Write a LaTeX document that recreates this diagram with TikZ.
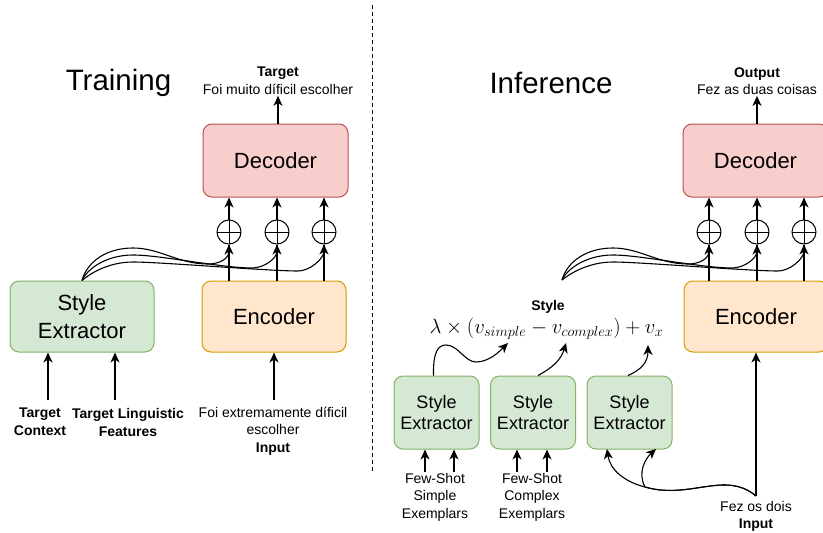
\documentclass[tikz,border=0pt]{standalone}
\usepackage{fontspec}
\setmainfont{Liberation Sans}
\usetikzlibrary{arrows.meta}
\definecolor{decfill}{HTML}{F8CECC}
\definecolor{decdraw}{HTML}{B85450}
\definecolor{encfill}{HTML}{FFE6CC}
\definecolor{encdraw}{HTML}{D79B00}
\definecolor{sefill}{HTML}{D5E8D4}
\definecolor{sedraw}{HTML}{82B366}
\begin{document}
\begin{tikzpicture}[x=1pt,y=-1pt,
  box/.style={draw, rounded corners=9pt, line width=1pt, inner sep=0pt, align=center},
  decbox/.style={box, fill=decfill, draw=decdraw, minimum width=145pt, minimum height=73pt, font=\fontsize{22}{26}\selectfont},
  encbox/.style={box, fill=encfill, draw=encdraw, minimum width=144pt, minimum height=71pt, font=\fontsize{22}{26}\selectfont},
  sebox/.style={box, fill=sefill, draw=sedraw, minimum width=144pt, minimum height=71pt, font=\fontsize{22}{28}\selectfont},
  ssebox/.style={box, fill=sefill, draw=sedraw, minimum width=85pt, minimum height=73pt, font=\fontsize{18}{21}\selectfont},
  plus/.style={circle, draw, line width=1pt, fill=white, minimum size=24pt, inner sep=0pt,
    path picture={\draw[line width=1pt] (path picture bounding box.west) -- (path picture bounding box.east);
                  \draw[line width=1pt] (path picture bounding box.north) -- (path picture bounding box.south);}},
  lab/.style={align=center, font=\fontsize{14}{17.5}\selectfont, inner sep=1pt},
  blab/.style={lab, font=\fontsize{14}{18}\selectfont\bfseries},
  title/.style={font=\fontsize{29.5}{34}\selectfont, inner sep=0pt},
  conn/.style={line width=1.1pt},
  arr/.style={conn, -{Stealth[length=10pt,width=9pt,inset=3pt]}}
]
\clip (0,0) rectangle (823,533);
\fill[white] (0,0) rectangle (823,533);

% ---------------- Training ----------------
\node[title] (ttrain) at (118.5,83) {Training};
\node[decbox] (decL) at (275.5,160.5) {Decoder};
\node[encbox] (encL) at (274,316.5) {Encoder};
\node[sebox] (seL) at (82,316.5) {Style\\Extractor};
\node[plus] (c1) at (229,232) {};
\node[plus] (c2) at (277,232) {};
\node[plus] (c3) at (324,232) {};
\node[lab] (tgt) at (278,81) {\textbf{Target}\\Foi muito díficil escolher};
\draw[arr] (decL.north -| tgt.south) -- (tgt.south);
\foreach \c in {c1,c2,c3}{
  \draw[conn] (encL.north -| \c) -- (\c.south);
  \draw[arr] (\c.north) -- (decL.south -| \c);
}
\foreach \c/\o/\H/\L/\Ly in {c1/0/248/208/264, c2/0/255/252/268, c3/0/262/298/271}{
  \draw[arr] (seL.north) .. controls ({87+\o},{\H+14}) and ({106+\o},\H) .. ({133+\o},\H)
     .. controls ({160+\o},\H) and ({\L+\o-30},\Ly) .. ({\L+\o},\Ly)
     .. controls ({\L+\o+12},\Ly) and ([yshift=-14pt]\c.south) .. (\c.south);
}
\node[blab] (tctx) at (40,422) {Target\\Context};
\node[blab] (tling) at (128,422) {Target Linguistic\\Features};
\coordinate (a1) at (48,400);
\coordinate (a2) at (115,400);
\draw[arr] (a1) -- (a1 |- seL.south);
\draw[arr] (a2) -- (a2 |- seL.south);
\node[lab] (inL) at (273,431) {Foi extremamente díficil\\escolher\\\textbf{Input}};
\coordinate (a3) at (274,400);
\draw[arr] (a3) -- (a3 |- encL.south);

% divider
\draw[line width=1pt, dash pattern=on 4pt off 3pt] (372,5) -- (372,472);

% ---------------- Inference ----------------
\node[title] (tinf) at (551,83) {Inference};
\node[decbox] (decR) at (755.5,160.5) {Decoder};
\node[encbox] (encR) at (756,316.5) {Encoder};
\node[plus] (c4) at (709,232) {};
\node[plus] (c5) at (757,232) {};
\node[plus] (c6) at (804,232) {};
\node[lab] (outp) at (757,81) {\textbf{Output}\\Fez as duas coisas};
\draw[arr] (decR.north -| outp.south) -- (outp.south);
\foreach \c in {c4,c5,c6}{
  \draw[conn] (encR.north -| \c) -- (\c.south);
  \draw[arr] (\c.north) -- (decR.south -| \c);
}
\coordinate (sR) at (562,280);
\foreach \c/\o/\H/\L/\Ly in {c4/480/248/208/264, c5/480/255/252/268, c6/480/262/298/271}{
  \draw[arr] (sR) .. controls ({87+\o},{\H+14}) and ({106+\o},\H) .. ({133+\o},\H)
     .. controls ({160+\o},\H) and ({\L+\o-30},\Ly) .. ({\L+\o},\Ly)
     .. controls ({\L+\o+12},\Ly) and ([yshift=-14pt]\c.south) .. (\c.south);
}
\node[inner sep=0pt, font=\fontsize{14}{17}\selectfont\bfseries] (stylab) at (548,306.5) {Style};
\node[inner sep=0pt, font=\fontsize{19.7}{22}\selectfont] (form) at (546.5,329) {$\lambda \times (v_{simple} - v_{complex}) + v_x$};
\coordinate (f1) at (508,343);
\coordinate (f2) at (566,343);
\coordinate (f3) at (648,345);

\node[ssebox] (se1) at (436.5,412.5) {Style\\Extractor};
\node[ssebox] (se2) at (533,412.5) {Style\\Extractor};
\node[ssebox] (se3) at (629.5,412.5) {Style\\Extractor};

\draw[arr] (se1.north) ++(-3,0) .. controls (433,352) and (438,345) .. (446,345)
   .. controls (458,345) and (465,362) .. (476,362)
   .. controls (488,362) and (498,353) .. (f1);
\draw[arr] (se2.north) ++(5,0) .. controls (552,368) and (561,360) .. (f2);
\draw[arr] (se3.north) ++(-1.5,0) .. controls (641,370) and (648,362) .. (f3);

\coordinate (b1) at (425,472);
\coordinate (b2) at (454,472);
\coordinate (b3) at (517,472);
\coordinate (b4) at (547,472);
\draw[arr] (b1) -- (b1 |- se1.south);
\draw[arr] (b2) -- (b2 |- se1.south);
\draw[arr] (b3) -- (b3 |- se2.south);
\draw[arr] (b4) -- (b4 |- se2.south);
\node[lab] (fs1) at (435,497) {Few-Shot\\Simple\\Exemplars};
\node[lab] (fs2) at (532,497) {Few-Shot\\Complex\\Exemplars};

\node[lab, font=\fontsize{14}{17}\selectfont] (inR) at (756,516) {Fez os dois\\\textbf{Input}};
\coordinate (inRtop) at (756,496);
\draw[arr] (inRtop) -- (inRtop |- encR.south);
\coordinate (e1) at (656,449);
\coordinate (e2) at (607,449);
\draw[arr] (inRtop) .. controls (725,470) and (690,500) .. (645,487)
   .. controls (637,472) and (646,458) .. (e1);
\draw[arr] (inRtop) .. controls (725,470) and (690,500) .. (645,487)
   .. controls (625,482) and (610,470) .. (e2);
\end{tikzpicture}
\end{document}
